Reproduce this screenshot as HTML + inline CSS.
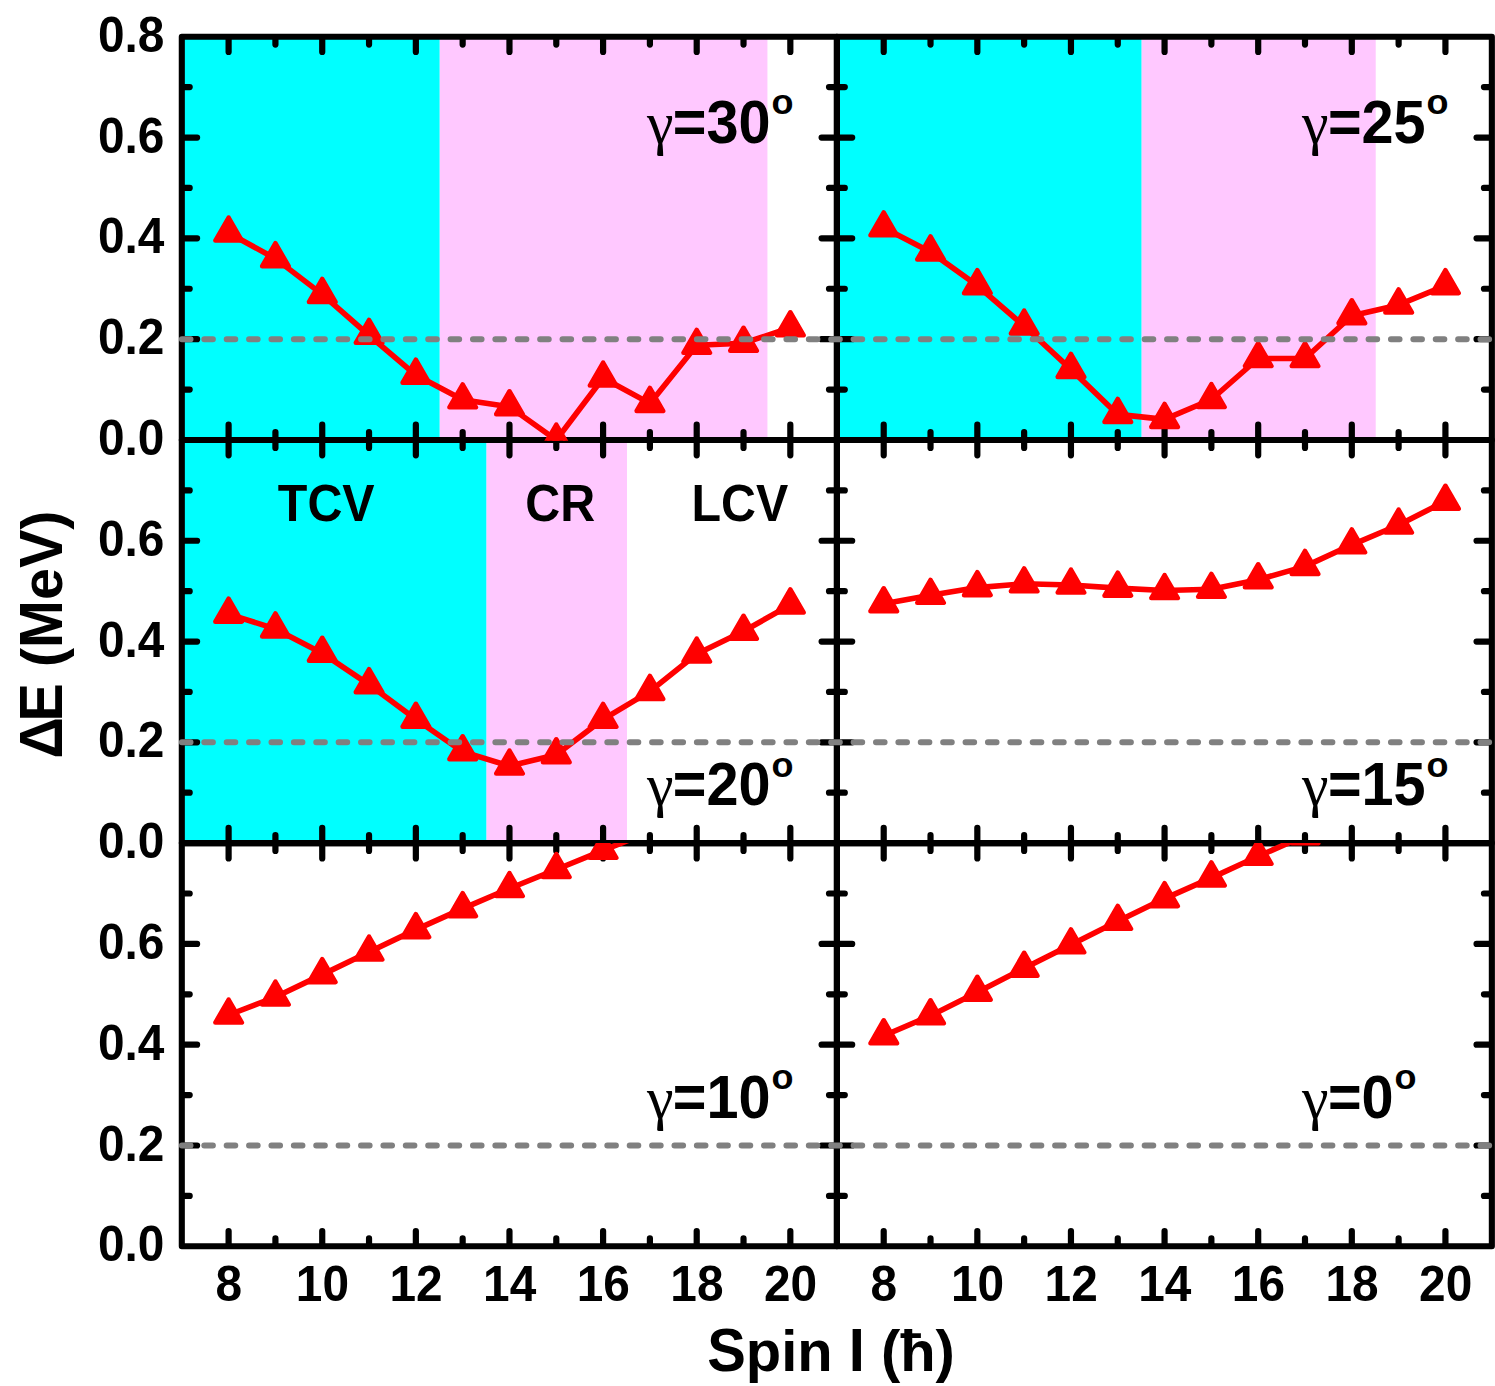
<!DOCTYPE html>
<html><head><meta charset="utf-8"><title>chart</title>
<style>html,body{margin:0;padding:0;background:#fff}svg{display:block}text{font-family:"Liberation Sans",sans-serif;font-weight:bold;fill:#000}.sym{font-family:"Liberation Serif",serif;font-weight:normal}</style>
</head><body>
<svg width="1495" height="1386" viewBox="0 0 1495 1386">
<rect width="1495" height="1386" fill="#fff"/>
<defs>
<clipPath id="cp00"><rect x="181.80" y="36.70" width="655.10" height="404.00"/></clipPath>
<clipPath id="cp01"><rect x="836.90" y="36.70" width="654.95" height="404.00"/></clipPath>
<clipPath id="cp10"><rect x="181.80" y="440.00" width="655.10" height="403.80"/></clipPath>
<clipPath id="cp11"><rect x="836.90" y="440.00" width="654.95" height="403.80"/></clipPath>
<clipPath id="cp20"><rect x="181.80" y="843.10" width="655.10" height="403.90"/></clipPath>
<clipPath id="cp21"><rect x="836.90" y="843.10" width="654.95" height="403.90"/></clipPath>
</defs>
<rect x="181.80" y="36.70" width="257.96" height="403.30" fill="#00ffff"/>
<rect x="439.76" y="36.70" width="327.67" height="403.30" fill="#ffc8ff"/>
<rect x="836.90" y="36.70" width="304.76" height="403.30" fill="#00ffff"/>
<rect x="1141.66" y="36.70" width="234.05" height="403.30" fill="#ffc8ff"/>
<rect x="181.80" y="440.00" width="304.76" height="403.10" fill="#00ffff"/>
<rect x="486.56" y="440.00" width="140.43" height="403.10" fill="#ffc8ff"/>
<rect x="181.80" y="36.70" width="655.10" height="403.30" fill="none" stroke="#000" stroke-width="6.1" stroke-linejoin="round"/>
<path d="M228.61 37.70v14.3M228.61 439.00v-14.3M275.42 37.70v6.9M275.42 439.00v-6.9M322.23 37.70v14.3M322.23 439.00v-14.3M369.04 37.70v6.9M369.04 439.00v-6.9M415.85 37.70v14.3M415.85 439.00v-14.3M462.66 37.70v6.9M462.66 439.00v-6.9M509.47 37.70v14.3M509.47 439.00v-14.3M556.28 37.70v6.9M556.28 439.00v-6.9M603.09 37.70v14.3M603.09 439.00v-14.3M649.90 37.70v6.9M649.90 439.00v-6.9M696.71 37.70v14.3M696.71 439.00v-14.3M743.52 37.70v6.9M743.52 439.00v-6.9M790.33 37.70v14.3M790.33 439.00v-14.3M182.80 87.11h6.9M835.90 87.11h-6.9M182.80 137.53h14.3M835.90 137.53h-14.3M182.80 187.94h6.9M835.90 187.94h-6.9M182.80 238.35h14.3M835.90 238.35h-14.3M182.80 288.76h6.9M835.90 288.76h-6.9M182.80 339.18h14.3M835.90 339.18h-14.3M182.80 389.59h6.9M835.90 389.59h-6.9" stroke="#000" stroke-width="6.2" stroke-linecap="round" fill="none"/>
<rect x="836.90" y="36.70" width="654.95" height="403.30" fill="none" stroke="#000" stroke-width="6.1" stroke-linejoin="round"/>
<path d="M883.71 37.70v14.3M883.71 439.00v-14.3M930.52 37.70v6.9M930.52 439.00v-6.9M977.33 37.70v14.3M977.33 439.00v-14.3M1024.14 37.70v6.9M1024.14 439.00v-6.9M1070.95 37.70v14.3M1070.95 439.00v-14.3M1117.76 37.70v6.9M1117.76 439.00v-6.9M1164.57 37.70v14.3M1164.57 439.00v-14.3M1211.38 37.70v6.9M1211.38 439.00v-6.9M1258.19 37.70v14.3M1258.19 439.00v-14.3M1305.00 37.70v6.9M1305.00 439.00v-6.9M1351.81 37.70v14.3M1351.81 439.00v-14.3M1398.62 37.70v6.9M1398.62 439.00v-6.9M1445.43 37.70v14.3M1445.43 439.00v-14.3M837.90 87.11h6.9M1490.85 87.11h-6.9M837.90 137.53h14.3M1490.85 137.53h-14.3M837.90 187.94h6.9M1490.85 187.94h-6.9M837.90 238.35h14.3M1490.85 238.35h-14.3M837.90 288.76h6.9M1490.85 288.76h-6.9M837.90 339.18h14.3M1490.85 339.18h-14.3M837.90 389.59h6.9M1490.85 389.59h-6.9" stroke="#000" stroke-width="6.2" stroke-linecap="round" fill="none"/>
<rect x="181.80" y="440.00" width="655.10" height="403.10" fill="none" stroke="#000" stroke-width="6.1" stroke-linejoin="round"/>
<path d="M228.61 441.00v14.3M228.61 842.10v-14.3M275.42 441.00v6.9M275.42 842.10v-6.9M322.23 441.00v14.3M322.23 842.10v-14.3M369.04 441.00v6.9M369.04 842.10v-6.9M415.85 441.00v14.3M415.85 842.10v-14.3M462.66 441.00v6.9M462.66 842.10v-6.9M509.47 441.00v14.3M509.47 842.10v-14.3M556.28 441.00v6.9M556.28 842.10v-6.9M603.09 441.00v14.3M603.09 842.10v-14.3M649.90 441.00v6.9M649.90 842.10v-6.9M696.71 441.00v14.3M696.71 842.10v-14.3M743.52 441.00v6.9M743.52 842.10v-6.9M790.33 441.00v14.3M790.33 842.10v-14.3M182.80 490.39h6.9M835.90 490.39h-6.9M182.80 540.77h14.3M835.90 540.77h-14.3M182.80 591.16h6.9M835.90 591.16h-6.9M182.80 641.55h14.3M835.90 641.55h-14.3M182.80 691.94h6.9M835.90 691.94h-6.9M182.80 742.33h14.3M835.90 742.33h-14.3M182.80 792.71h6.9M835.90 792.71h-6.9" stroke="#000" stroke-width="6.2" stroke-linecap="round" fill="none"/>
<rect x="836.90" y="440.00" width="654.95" height="403.10" fill="none" stroke="#000" stroke-width="6.1" stroke-linejoin="round"/>
<path d="M883.71 441.00v14.3M883.71 842.10v-14.3M930.52 441.00v6.9M930.52 842.10v-6.9M977.33 441.00v14.3M977.33 842.10v-14.3M1024.14 441.00v6.9M1024.14 842.10v-6.9M1070.95 441.00v14.3M1070.95 842.10v-14.3M1117.76 441.00v6.9M1117.76 842.10v-6.9M1164.57 441.00v14.3M1164.57 842.10v-14.3M1211.38 441.00v6.9M1211.38 842.10v-6.9M1258.19 441.00v14.3M1258.19 842.10v-14.3M1305.00 441.00v6.9M1305.00 842.10v-6.9M1351.81 441.00v14.3M1351.81 842.10v-14.3M1398.62 441.00v6.9M1398.62 842.10v-6.9M1445.43 441.00v14.3M1445.43 842.10v-14.3M837.90 490.39h6.9M1490.85 490.39h-6.9M837.90 540.77h14.3M1490.85 540.77h-14.3M837.90 591.16h6.9M1490.85 591.16h-6.9M837.90 641.55h14.3M1490.85 641.55h-14.3M837.90 691.94h6.9M1490.85 691.94h-6.9M837.90 742.33h14.3M1490.85 742.33h-14.3M837.90 792.71h6.9M1490.85 792.71h-6.9" stroke="#000" stroke-width="6.2" stroke-linecap="round" fill="none"/>
<rect x="181.80" y="843.10" width="655.10" height="403.20" fill="none" stroke="#000" stroke-width="6.1" stroke-linejoin="round"/>
<path d="M228.61 844.10v14.3M228.61 1245.30v-14.3M275.42 844.10v6.9M275.42 1245.30v-6.9M322.23 844.10v14.3M322.23 1245.30v-14.3M369.04 844.10v6.9M369.04 1245.30v-6.9M415.85 844.10v14.3M415.85 1245.30v-14.3M462.66 844.10v6.9M462.66 1245.30v-6.9M509.47 844.10v14.3M509.47 1245.30v-14.3M556.28 844.10v6.9M556.28 1245.30v-6.9M603.09 844.10v14.3M603.09 1245.30v-14.3M649.90 844.10v6.9M649.90 1245.30v-6.9M696.71 844.10v14.3M696.71 1245.30v-14.3M743.52 844.10v6.9M743.52 1245.30v-6.9M790.33 844.10v14.3M790.33 1245.30v-14.3M182.80 893.50h6.9M835.90 893.50h-6.9M182.80 943.90h14.3M835.90 943.90h-14.3M182.80 994.30h6.9M835.90 994.30h-6.9M182.80 1044.70h14.3M835.90 1044.70h-14.3M182.80 1095.10h6.9M835.90 1095.10h-6.9M182.80 1145.50h14.3M835.90 1145.50h-14.3M182.80 1195.90h6.9M835.90 1195.90h-6.9" stroke="#000" stroke-width="6.2" stroke-linecap="round" fill="none"/>
<rect x="836.90" y="843.10" width="654.95" height="403.20" fill="none" stroke="#000" stroke-width="6.1" stroke-linejoin="round"/>
<path d="M883.71 844.10v14.3M883.71 1245.30v-14.3M930.52 844.10v6.9M930.52 1245.30v-6.9M977.33 844.10v14.3M977.33 1245.30v-14.3M1024.14 844.10v6.9M1024.14 1245.30v-6.9M1070.95 844.10v14.3M1070.95 1245.30v-14.3M1117.76 844.10v6.9M1117.76 1245.30v-6.9M1164.57 844.10v14.3M1164.57 1245.30v-14.3M1211.38 844.10v6.9M1211.38 1245.30v-6.9M1258.19 844.10v14.3M1258.19 1245.30v-14.3M1305.00 844.10v6.9M1305.00 1245.30v-6.9M1351.81 844.10v14.3M1351.81 1245.30v-14.3M1398.62 844.10v6.9M1398.62 1245.30v-6.9M1445.43 844.10v14.3M1445.43 1245.30v-14.3M837.90 893.50h6.9M1490.85 893.50h-6.9M837.90 943.90h14.3M1490.85 943.90h-14.3M837.90 994.30h6.9M1490.85 994.30h-6.9M837.90 1044.70h14.3M1490.85 1044.70h-14.3M837.90 1095.10h6.9M1490.85 1095.10h-6.9M837.90 1145.50h14.3M1490.85 1145.50h-14.3M837.90 1195.90h6.9M1490.85 1195.90h-6.9" stroke="#000" stroke-width="6.2" stroke-linecap="round" fill="none"/>
<g clip-path="url(#cp00)">
<polyline points="228.61,233.00 275.42,258.60 322.23,294.40 369.04,335.30 415.85,375.10 462.66,399.80 509.47,406.70 556.28,440.00 603.09,378.00 649.90,403.40 696.71,345.30 743.52,343.20 790.33,327.70" fill="none" stroke="#ff0000" stroke-width="5.6" stroke-linejoin="round" stroke-linecap="round"/>
<path d="M228.61 217.55l13.28 23.0h-26.56zM275.42 243.15l13.28 23.0h-26.56zM322.23 278.95l13.28 23.0h-26.56zM369.04 319.85l13.28 23.0h-26.56zM415.85 359.65l13.28 23.0h-26.56zM462.66 384.35l13.28 23.0h-26.56zM509.47 391.25l13.28 23.0h-26.56zM556.28 424.55l13.28 23.0h-26.56zM603.09 362.55l13.28 23.0h-26.56zM649.90 387.95l13.28 23.0h-26.56zM696.71 329.85l13.28 23.0h-26.56zM743.52 327.75l13.28 23.0h-26.56zM790.33 312.25l13.28 23.0h-26.56z" fill="#ff0000" stroke="#ff0000" stroke-width="4.5" stroke-linejoin="round"/>
</g>
<g clip-path="url(#cp01)">
<polyline points="883.71,227.80 930.52,251.90 977.33,285.60 1024.14,326.00 1070.95,369.40 1117.76,414.40 1164.57,419.40 1211.38,399.50 1258.19,358.50 1305.00,358.50 1351.81,315.70 1398.62,304.90 1445.43,285.60" fill="none" stroke="#ff0000" stroke-width="5.6" stroke-linejoin="round" stroke-linecap="round"/>
<path d="M883.71 212.35l13.28 23.0h-26.56zM930.52 236.45l13.28 23.0h-26.56zM977.33 270.15l13.28 23.0h-26.56zM1024.14 310.55l13.28 23.0h-26.56zM1070.95 353.95l13.28 23.0h-26.56zM1117.76 398.95l13.28 23.0h-26.56zM1164.57 403.95l13.28 23.0h-26.56zM1211.38 384.05l13.28 23.0h-26.56zM1258.19 343.05l13.28 23.0h-26.56zM1305.00 343.05l13.28 23.0h-26.56zM1351.81 300.25l13.28 23.0h-26.56zM1398.62 289.45l13.28 23.0h-26.56zM1445.43 270.15l13.28 23.0h-26.56z" fill="#ff0000" stroke="#ff0000" stroke-width="4.5" stroke-linejoin="round"/>
</g>
<g clip-path="url(#cp10)">
<polyline points="228.61,614.10 275.42,628.90 322.23,653.20 369.04,684.60 415.85,719.20 462.66,751.70 509.47,766.00 556.28,754.70 603.09,719.30 649.90,691.40 696.71,654.00 743.52,631.20 790.33,604.90" fill="none" stroke="#ff0000" stroke-width="5.6" stroke-linejoin="round" stroke-linecap="round"/>
<path d="M228.61 598.65l13.28 23.0h-26.56zM275.42 613.45l13.28 23.0h-26.56zM322.23 637.75l13.28 23.0h-26.56zM369.04 669.15l13.28 23.0h-26.56zM415.85 703.75l13.28 23.0h-26.56zM462.66 736.25l13.28 23.0h-26.56zM509.47 750.55l13.28 23.0h-26.56zM556.28 739.25l13.28 23.0h-26.56zM603.09 703.85l13.28 23.0h-26.56zM649.90 675.95l13.28 23.0h-26.56zM696.71 638.55l13.28 23.0h-26.56zM743.52 615.75l13.28 23.0h-26.56zM790.33 589.45l13.28 23.0h-26.56z" fill="#ff0000" stroke="#ff0000" stroke-width="4.5" stroke-linejoin="round"/>
</g>
<g clip-path="url(#cp11)">
<polyline points="883.71,603.70 930.52,595.30 977.33,587.60 1024.14,583.80 1070.95,585.00 1117.76,588.10 1164.57,590.50 1211.38,589.30 1258.19,579.70 1305.00,566.40 1351.81,544.80 1398.62,525.00 1445.43,501.20" fill="none" stroke="#ff0000" stroke-width="5.6" stroke-linejoin="round" stroke-linecap="round"/>
<path d="M883.71 588.25l13.28 23.0h-26.56zM930.52 579.85l13.28 23.0h-26.56zM977.33 572.15l13.28 23.0h-26.56zM1024.14 568.35l13.28 23.0h-26.56zM1070.95 569.55l13.28 23.0h-26.56zM1117.76 572.65l13.28 23.0h-26.56zM1164.57 575.05l13.28 23.0h-26.56zM1211.38 573.85l13.28 23.0h-26.56zM1258.19 564.25l13.28 23.0h-26.56zM1305.00 550.95l13.28 23.0h-26.56zM1351.81 529.35l13.28 23.0h-26.56zM1398.62 509.55l13.28 23.0h-26.56zM1445.43 485.75l13.28 23.0h-26.56z" fill="#ff0000" stroke="#ff0000" stroke-width="4.5" stroke-linejoin="round"/>
</g>
<g clip-path="url(#cp20)">
<polyline points="228.61,1015.00 275.42,997.00 322.23,974.60 369.04,952.00 415.85,929.60 462.66,908.60 509.47,888.50 556.28,869.50 603.09,850.30 649.90,831.80 696.71,813.70 743.52,794.70 790.33,775.70" fill="none" stroke="#ff0000" stroke-width="5.6" stroke-linejoin="round" stroke-linecap="round"/>
<path d="M228.61 999.55l13.28 23.0h-26.56zM275.42 981.55l13.28 23.0h-26.56zM322.23 959.15l13.28 23.0h-26.56zM369.04 936.55l13.28 23.0h-26.56zM415.85 914.15l13.28 23.0h-26.56zM462.66 893.15l13.28 23.0h-26.56zM509.47 873.05l13.28 23.0h-26.56zM556.28 854.05l13.28 23.0h-26.56zM603.09 834.85l13.28 23.0h-26.56zM649.90 816.35l13.28 23.0h-26.56zM696.71 798.25l13.28 23.0h-26.56zM743.52 779.25l13.28 23.0h-26.56zM790.33 760.25l13.28 23.0h-26.56z" fill="#ff0000" stroke="#ff0000" stroke-width="4.5" stroke-linejoin="round"/>
</g>
<g clip-path="url(#cp21)">
<polyline points="883.71,1035.70 930.52,1015.70 977.33,992.20 1024.14,968.20 1070.95,944.80 1117.76,921.30 1164.57,898.60 1211.38,877.90 1258.19,856.30 1305.00,835.70 1351.81,815.70 1398.62,794.70 1445.43,773.70" fill="none" stroke="#ff0000" stroke-width="5.6" stroke-linejoin="round" stroke-linecap="round"/>
<path d="M883.71 1020.25l13.28 23.0h-26.56zM930.52 1000.25l13.28 23.0h-26.56zM977.33 976.75l13.28 23.0h-26.56zM1024.14 952.75l13.28 23.0h-26.56zM1070.95 929.35l13.28 23.0h-26.56zM1117.76 905.85l13.28 23.0h-26.56zM1164.57 883.15l13.28 23.0h-26.56zM1211.38 862.45l13.28 23.0h-26.56zM1258.19 840.85l13.28 23.0h-26.56zM1305.00 820.25l13.28 23.0h-26.56zM1351.81 800.25l13.28 23.0h-26.56zM1398.62 779.25l13.28 23.0h-26.56zM1445.43 758.25l13.28 23.0h-26.56z" fill="#ff0000" stroke="#ff0000" stroke-width="4.5" stroke-linejoin="round"/>
</g>
<rect x="1281" y="843.10" width="39" height="1.4" fill="#ff0000"/>
<line x1="181.90" y1="339.18" x2="1491.35" y2="339.18" stroke="#808080" stroke-width="6.0" stroke-linecap="round" stroke-dasharray="8.6 13.79"/>
<line x1="181.90" y1="742.33" x2="1491.35" y2="742.33" stroke="#808080" stroke-width="6.0" stroke-linecap="round" stroke-dasharray="8.6 13.79"/>
<line x1="181.90" y1="1145.50" x2="1491.35" y2="1145.50" stroke="#808080" stroke-width="6.0" stroke-linecap="round" stroke-dasharray="8.6 13.79"/>
<text transform="translate(98.02 51.80) scale(1 1.0520)" font-size="47.8">0.8</text>
<text transform="translate(98.02 152.62) scale(1 1.0520)" font-size="47.8">0.6</text>
<text transform="translate(98.02 253.45) scale(1 1.0520)" font-size="47.8">0.4</text>
<text transform="translate(98.02 354.28) scale(1 1.0520)" font-size="47.8">0.2</text>
<text transform="translate(98.02 455.10) scale(1 1.0520)" font-size="47.8">0.0</text>
<text transform="translate(98.02 555.88) scale(1 1.0520)" font-size="47.8">0.6</text>
<text transform="translate(98.02 656.65) scale(1 1.0520)" font-size="47.8">0.4</text>
<text transform="translate(98.02 757.43) scale(1 1.0520)" font-size="47.8">0.2</text>
<text transform="translate(98.02 858.20) scale(1 1.0520)" font-size="47.8">0.0</text>
<text transform="translate(98.02 959.00) scale(1 1.0520)" font-size="47.8">0.6</text>
<text transform="translate(98.02 1059.80) scale(1 1.0520)" font-size="47.8">0.4</text>
<text transform="translate(98.02 1160.60) scale(1 1.0520)" font-size="47.8">0.2</text>
<text transform="translate(98.02 1261.40) scale(1 1.0520)" font-size="47.8">0.0</text>
<text transform="translate(215.52 1301.20) scale(1 1.0520)" font-size="47.8">8</text>
<text transform="translate(295.85 1301.20) scale(1 1.0520)" font-size="47.8">1</text>
<text transform="translate(322.43 1301.20) scale(1 1.0520)" font-size="47.8">0</text>
<text transform="translate(389.47 1301.20) scale(1 1.0520)" font-size="47.8">1</text>
<text transform="translate(416.05 1301.20) scale(1 1.0520)" font-size="47.8">2</text>
<text transform="translate(483.09 1301.20) scale(1 1.0520)" font-size="47.8">1</text>
<text transform="translate(509.67 1301.20) scale(1 1.0520)" font-size="47.8">4</text>
<text transform="translate(576.71 1301.20) scale(1 1.0520)" font-size="47.8">1</text>
<text transform="translate(603.29 1301.20) scale(1 1.0520)" font-size="47.8">6</text>
<text transform="translate(670.33 1301.20) scale(1 1.0520)" font-size="47.8">1</text>
<text transform="translate(696.91 1301.20) scale(1 1.0520)" font-size="47.8">8</text>
<text transform="translate(763.95 1301.20) scale(1 1.0520)" font-size="47.8">20</text>
<text transform="translate(870.62 1301.20) scale(1 1.0520)" font-size="47.8">8</text>
<text transform="translate(950.95 1301.20) scale(1 1.0520)" font-size="47.8">1</text>
<text transform="translate(977.53 1301.20) scale(1 1.0520)" font-size="47.8">0</text>
<text transform="translate(1044.57 1301.20) scale(1 1.0520)" font-size="47.8">1</text>
<text transform="translate(1071.15 1301.20) scale(1 1.0520)" font-size="47.8">2</text>
<text transform="translate(1138.19 1301.20) scale(1 1.0520)" font-size="47.8">1</text>
<text transform="translate(1164.77 1301.20) scale(1 1.0520)" font-size="47.8">4</text>
<text transform="translate(1231.81 1301.20) scale(1 1.0520)" font-size="47.8">1</text>
<text transform="translate(1258.39 1301.20) scale(1 1.0520)" font-size="47.8">6</text>
<text transform="translate(1325.43 1301.20) scale(1 1.0520)" font-size="47.8">1</text>
<text transform="translate(1352.01 1301.20) scale(1 1.0520)" font-size="47.8">8</text>
<text transform="translate(1419.05 1301.20) scale(1 1.0520)" font-size="47.8">20</text>
<text transform="translate(707.23 1370.80) scale(1 1.0520)" font-size="57.9">S</text>
<text transform="translate(745.85 1370.80) scale(1 0.9900)" font-size="57.9">pin </text>
<text transform="translate(848.76 1370.80) scale(1 1.0520)" font-size="57.9">I </text>
<text transform="translate(880.93 1370.80) scale(1 0.9950)" font-size="57.9">(ħ)</text>
<g transform="translate(62.4 0) rotate(-90)">
<text transform="translate(-758.50 0.00) scale(1 1.0520)" font-size="57.5">Δ</text>
<text transform="translate(-721.45 0.00) scale(1 1.0520)" font-size="57.5">E </text>
<text transform="translate(-667.12 0.00) scale(1 0.9950)" font-size="57.5">(</text>
<text transform="translate(-647.97 0.00) scale(1 1.0520)" font-size="57.5">M</text>
<text transform="translate(-600.07 0.00) scale(1 0.9900)" font-size="57.5">e</text>
<text transform="translate(-568.09 0.00) scale(1 1.0520)" font-size="57.5">V</text>
<text transform="translate(-529.74 0.00) scale(1 0.9950)" font-size="57.5">)</text>
</g>
<text class="sym" x="647" y="142.50" font-size="60">γ</text>
<text transform="translate(672.81 142.50) scale(1 1.0520)" font-size="57.6">=30</text>
<text transform="translate(771.52 114.00) scale(1 0.99)" font-size="36">o</text>
<text class="sym" x="1302.10" y="142.50" font-size="60">γ</text>
<text transform="translate(1327.91 142.50) scale(1 1.0520)" font-size="57.6">=25</text>
<text transform="translate(1426.62 114.00) scale(1 0.99)" font-size="36">o</text>
<text class="sym" x="647" y="805.10" font-size="60">γ</text>
<text transform="translate(672.81 805.10) scale(1 1.0520)" font-size="57.6">=20</text>
<text transform="translate(771.52 776.60) scale(1 0.99)" font-size="36">o</text>
<text class="sym" x="1302.10" y="805.10" font-size="60">γ</text>
<text transform="translate(1327.91 805.10) scale(1 1.0520)" font-size="57.6">=</text>
<text transform="translate(1361.55 805.10) scale(1 1.0520)" font-size="57.6">1</text>
<text transform="translate(1393.58 805.10) scale(1 1.0520)" font-size="57.6">5</text>
<text transform="translate(1426.62 776.60) scale(1 0.99)" font-size="36">o</text>
<text class="sym" x="647" y="1117.60" font-size="60">γ</text>
<text transform="translate(672.81 1117.60) scale(1 1.0520)" font-size="57.6">=</text>
<text transform="translate(706.45 1117.60) scale(1 1.0520)" font-size="57.6">1</text>
<text transform="translate(738.48 1117.60) scale(1 1.0520)" font-size="57.6">0</text>
<text transform="translate(771.52 1089.10) scale(1 0.99)" font-size="36">o</text>
<text class="sym" x="1302.10" y="1117.60" font-size="60">γ</text>
<text transform="translate(1327.91 1117.60) scale(1 1.0520)" font-size="57.6">=0</text>
<text transform="translate(1394.58 1089.10) scale(1 0.99)" font-size="36">o</text>
<text transform="translate(277.86 520.50) scale(1 1.0520)" font-size="48.4">TCV</text>
<text transform="translate(525.21 520.50) scale(1 1.0520)" font-size="48.4">CR</text>
<text transform="translate(691.46 520.50) scale(1 1.0520)" font-size="48.4">LCV</text>
</svg></body></html>
